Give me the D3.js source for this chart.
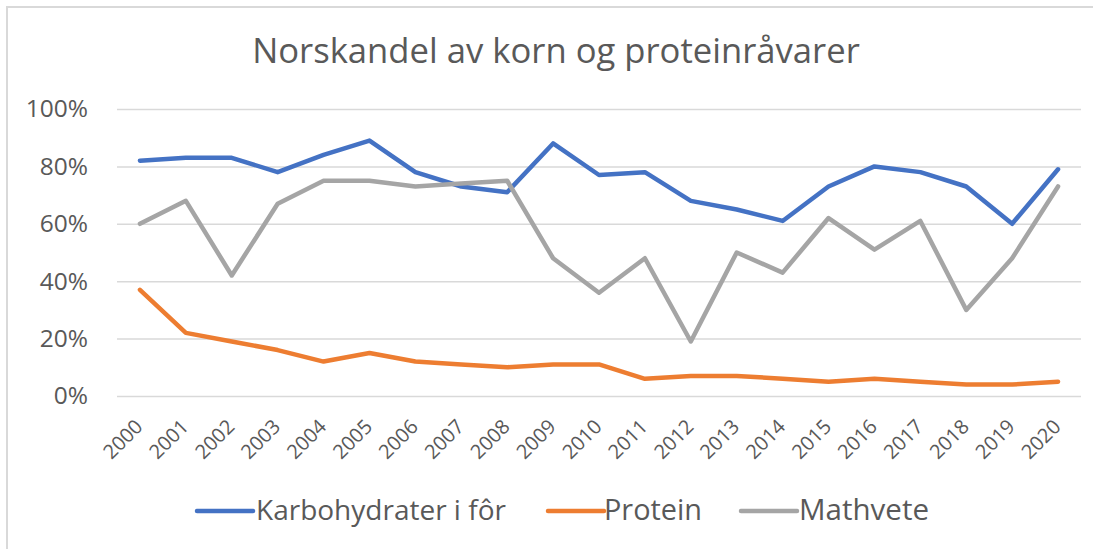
<!DOCTYPE html>
<html>
<head>
<meta charset="utf-8">
<script src="https://cdn.jsdelivr.net/npm/d3@7"></script>
<style>
  html, body { margin: 0; padding: 0; background: #fff; }
  svg { display: block; }
  text { font-family: "Open Sans", "Noto Sans", sans-serif; fill: #595959; }
</style>
</head>
<body>
<svg id="chart" width="1093" height="549"></svg>
<script>
const title = "Norskandel av korn og proteinråvarer";
const years = ["2000","2001","2002","2003","2004","2005","2006","2007","2008","2009","2010",
               "2011","2012","2013","2014","2015","2016","2017","2018","2019","2020"];
const karbohydrater = [0.82,0.83,0.83,0.78,0.84,0.89,0.78,0.73,0.71,0.88,0.77,
                       0.78,0.68,0.65,0.61,0.73,0.80,0.78,0.73,0.60,0.79];
const protein = [0.37,0.22,0.19,0.16,0.12,0.15,0.12,0.11,0.10,0.11,0.11,
                 0.06,0.07,0.07,0.06,0.05,0.06,0.05,0.04,0.04,0.05];
const mathvete = [0.60,0.68,0.42,0.67,0.75,0.75,0.73,0.74,0.75,0.48,0.36,
                  0.48,0.19,0.50,0.43,0.62,0.51,0.61,0.30,0.48,0.73];
const yTicks = [0, 0.2, 0.4, 0.6, 0.8, 1.0];
const seriesNames = ["Karbohydrater i fôr", "Protein", "Mathvete"];
const seriesColors = ["#4472C4", "#ED7D31", "#A5A5A5"];

const series = [karbohydrater, protein, mathvete].map((v, i) => ({
  name: seriesNames[i], color: seriesColors[i], values: v
}));

const svg = d3.select("#chart");

// outer frame (cropped on right/bottom like reference)
svg.append("rect")
  .attr("x", 7).attr("y", 7).attr("width", 1200).attr("height", 700)
  .attr("fill", "none").attr("stroke", "#d9d9d9").attr("stroke-width", 2);

const plot = { left: 117, right: 1081, top: 109, bottom: 396 };

const x = d3.scaleBand().domain(years).range([plot.left, plot.right]);
const y = d3.scaleLinear().domain([0, 1]).range([plot.bottom, plot.top]);
const cx = d => x(d) + x.bandwidth() / 2;

// title
const t = svg.append("text")
  .attr("x", 556).attr("y", 63)
  .attr("text-anchor", "middle")
  .style("font-size", "28px")
  .text(title);
{
  const w = t.node().getComputedTextLength();
  t.style("font-size", (28 * 608 / w).toFixed(2) + "px");
}

// gridlines
const yAxis = d3.axisLeft(y).tickValues(yTicks)
  .tickFormat(d3.format(".0%"))
  .tickSize(-(plot.right - plot.left)).tickPadding(29);
const gy = svg.append("g").attr("transform", `translate(${plot.left},0)`).call(yAxis);
gy.select(".domain").remove();
gy.selectAll(".tick line").attr("stroke", "#d9d9d9").attr("stroke-width", 1.5);
gy.selectAll(".tick text").style("font-size", "24.5px").attr("fill", "#595959")
  .style("font-family", "'Open Sans', sans-serif");

// x axis labels
const xAxis = d3.axisBottom(x).tickSize(0).tickPadding(0);
const gx = svg.append("g").attr("transform", `translate(0,${plot.bottom})`).call(xAxis);
gx.select(".domain").remove();
gx.selectAll(".tick text")
  .style("font-size", "20px").attr("fill", "#595959")
  .style("font-family", "'Open Sans', sans-serif")
  .attr("text-anchor", "end")
  .attr("dy", 0).attr("y", 0)
  .attr("transform", "translate(4,32) rotate(-45)");

// lines
const line = d3.line().x((d, i) => cx(years[i])).y(d => y(d));
svg.append("g").selectAll("path").data(series).join("path")
  .attr("d", d => line(d.values))
  .attr("fill", "none")
  .attr("stroke", d => d.color)
  .attr("stroke-width", 4.5)
  .attr("stroke-linejoin", "round")
  .attr("stroke-linecap", "round");

// legend
const legendSpec = [
  { sx: 197, tx: 256, tw: 250 },
  { sx: 548, tx: 604, tw: 98 },
  { sx: 741, tx: 799, tw: 130 }
];
const lg = svg.append("g");
series.forEach((s, i) => {
  const L = legendSpec[i];
  lg.append("line")
    .attr("x1", L.sx).attr("x2", L.sx + 56)
    .attr("y1", 511).attr("y2", 511)
    .attr("stroke", s.color).attr("stroke-width", 4.5).attr("stroke-linecap", "round");
  const tt = lg.append("text")
    .attr("x", L.tx).attr("y", 520)
    .style("font-size", "24px")
    .text(s.name);
  const w = tt.node().getComputedTextLength();
  tt.style("font-size", (24 * L.tw / w).toFixed(2) + "px");
});
</script>
</body>
</html>
